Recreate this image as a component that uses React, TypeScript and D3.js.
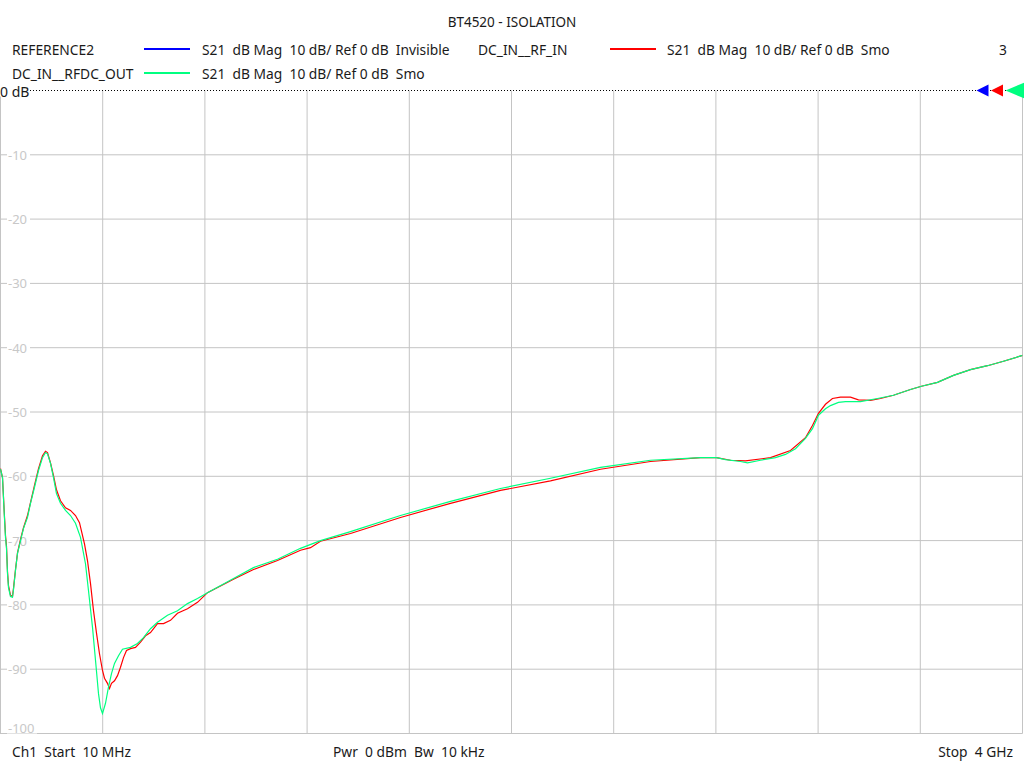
import React from 'react';
import * as d3 from 'd3';

// frequency in MHz, magnitude in dB
const rfInFreq = [
  10, 17.8, 25.6, 29.5, 33.4, 37.3, 41.2, 49.0, 56.8, 60.8, 68.6, 76.4, 88.1, 99.8, 115.4, 127.1,
  142.7, 158.4, 174.0, 185.7, 193.5, 205.2, 216.9, 228.6, 244.2, 263.8, 283.3, 302.8, 318.4, 337.9,
  349.6, 361.4, 373.1, 384.8, 396.5, 408.2, 416.0, 427.7, 435.5, 443.3, 455.1, 466.8, 478.5, 490.2,
  501.9, 517.5, 537.0, 556.6, 576.1, 595.6, 622.9, 646.4, 673.7, 701.0, 740.0, 779.1, 818.1, 919.6,
  997.7, 1091.4, 1181.2, 1220.2, 1259.3, 1376.4, 1571.6, 1766.8, 1962.0, 2157.2, 2352.4, 2547.6,
  2742.8, 2805.3, 2860.0, 2918.5, 3016.1, 3094.2, 3152.7, 3180.0, 3203.5, 3230.8, 3258.1, 3289.4,
  3328.4, 3359.6, 3406.5, 3445.5, 3496.3, 3562.6, 3605.6, 3668.1, 3730.5, 3796.9, 3863.3, 3925.8, 4000,
];
const rfInDb = [
  -58.8, -60.2, -66.3, -69.2, -70.9, -74.8, -77.0, -78.5, -78.7, -77.4, -74.5, -71.9, -69.8, -68.0, -66.1, -64.1,
  -61.4, -58.8, -56.8, -56.1, -56.3, -57.9, -59.9, -62.1, -63.8, -64.9, -65.3, -66.1, -67.2, -70.5,
  -73.1, -76.7, -80.9, -84.4, -87.6, -90.2, -91.4, -92.2, -93.0, -92.2, -91.8, -91.0, -89.7, -88.2,
  -87.1, -86.8, -86.6, -85.8, -84.8, -84.3, -82.9, -82.9, -82.4, -81.3, -80.6, -79.6, -78.1, -76.0,
  -74.5, -73.1, -71.5, -71.1, -70.1, -68.9, -66.4, -64.2, -62.2, -60.7, -58.9, -57.7,
  -57.1, -57.1, -57.5, -57.6, -57.1, -56.0, -54.0, -52.1, -50.2, -48.8, -47.9, -47.7,
  -47.7, -48.1, -48.2, -47.9, -47.4, -46.5, -46.0, -45.4, -44.3, -43.4, -42.8, -42.1, -41.2,
];

const rfdcOutFreq = [
  10, 17.8, 25.6, 29.5, 33.4, 37.3, 41.2, 49.0, 56.8, 60.8, 68.6, 76.4, 88.1, 99.8, 115.4, 127.1,
  142.7, 158.4, 174.0, 185.7, 193.5, 205.2, 216.9, 228.6, 244.2, 263.8, 283.3, 302.8, 322.3, 341.8,
  353.6, 369.2, 380.9, 392.6, 400.4, 408.2, 419.9, 431.6, 443.3, 455.1, 470.7, 486.3, 517.5, 544.8,
  568.3, 595.6, 622.9, 662.0, 701.0, 740.0, 779.1, 818.1, 919.6, 997.7, 1091.4, 1181.2, 1259.3,
  1376.4, 1571.6, 1766.8, 1962.0, 2157.2, 2352.4, 2547.6, 2742.8, 2805.3, 2840.4, 2899.0, 2926.3,
  2977.0, 3035.6, 3074.6, 3113.7, 3152.7, 3180.0, 3203.5, 3230.8, 3250.3, 3281.6, 3308.9, 3367.4,
  3433.8, 3496.3, 3562.6, 3605.6, 3668.1, 3730.5, 3796.9, 3863.3, 3925.8, 4000,
];
const rfdcOutDb = [
  -58.9, -60.2, -66.6, -69.5, -71.2, -75.1, -77.3, -78.7, -78.8, -77.6, -74.6, -72.0, -70.0, -68.1, -66.4, -64.2,
  -61.7, -59.1, -57.1, -56.3, -56.5, -58.0, -60.2, -62.7, -64.2, -65.3, -66.1, -67.3, -69.5, -73.6,
  -77.8, -83.5, -88.6, -93.8, -96.0, -96.9, -95.3, -92.8, -90.7, -89.1, -87.9, -86.9, -86.6, -86.0,
  -85.1, -83.7, -82.7, -81.6, -80.9, -79.8, -79.0, -78.1, -75.9, -74.2, -72.9, -71.2, -70.0,
  -68.6, -66.1, -63.9, -61.9, -60.3, -58.6, -57.5, -57.1, -57.1, -57.4, -57.7, -57.9,
  -57.5, -57.1, -56.6, -55.7, -54.1, -52.6, -50.5, -49.5, -49.0, -48.5, -48.4, -48.4,
  -47.9, -47.4, -46.5, -46.0, -45.4, -44.3, -43.4, -42.8, -42.1, -41.2,
];

const yTicks = [0, -10, -20, -30, -40, -50, -60, -70, -80, -90, -100];
const xDivisions = d3.range(11).map(i => 10 + i * 399);

const legendRows = [
  { name: 'REFERENCE2', color: '#0000ff', info: 'S21  dB Mag  10 dB/ Ref 0 dB  Invisible' },
  { name: 'DC_IN__RF_IN', color: '#ff0000', info: 'S21  dB Mag  10 dB/ Ref 0 dB  Smo' },
  { name: 'DC_IN__RFDC_OUT', color: '#00ff80', info: 'S21  dB Mag  10 dB/ Ref 0 dB  Smo' },
];

const W = 1024;
const H = 768;
const font = '"Noto Sans", "Open Sans", sans-serif';
// keep the analyzer's double spacing
const pre = (s: string) => s.replace(/  /g, '\u00a0 ');

const App: React.FC = () => {
  const x = d3.scaleLinear().domain([10, 4000]).range([0.5, 1022.5]);
  const y = d3.scaleLinear().domain([-100, 0]).range([733.5, 90.5]);

  const line = d3.line<[number, number]>()
    .x(d => x(d[0]))
    .y(d => y(d[1]));

  const redPts = rfInFreq.map((f, i) => [f, rfInDb[i]] as [number, number]);
  const greenPts = rfdcOutFreq.map((f, i) => [f, rfdcOutDb[i]] as [number, number]);

  const y0 = y(0);
  const xr = x(4000);

  return (
    <div style={{ position: 'absolute', left: 0, top: 0 }}>
      <svg width={W} height={H} style={{ display: 'block', background: '#fff' }} fontFamily={font}>
        <defs>
          <clipPath id="plotclip">
            <rect x={0} y={y0} width={xr} height={y(-100) - y0} />
          </clipPath>
        </defs>

        <text x={512} y={27} textAnchor="middle" fontSize={13.5} fill="#1a1a1a">BT4520 - ISOLATION</text>

        {/* legend */}
        <g fontSize={13.8} fill="#1a1a1a">
          <text x={12} y={55}>{legendRows[0].name}</text>
          <text x={202} y={55}>{pre(legendRows[0].info)}</text>
          <text x={478} y={55}>{legendRows[1].name}</text>
          <text x={667} y={55}>{pre(legendRows[1].info)}</text>
          <text x={1007} y={55} textAnchor="end">3</text>
          <text x={12} y={79}>{legendRows[2].name}</text>
          <text x={202} y={79}>{pre(legendRows[2].info)}</text>
        </g>
        <line x1={144} x2={190} y1={49} y2={49} stroke={legendRows[0].color} strokeWidth={2} />
        <line x1={610} x2={656} y1={49} y2={49} stroke={legendRows[1].color} strokeWidth={2} />
        <line x1={144} x2={190} y1={73} y2={73} stroke={legendRows[2].color} strokeWidth={2} />

        {/* grid */}
        {yTicks.slice(1, -1).map(t => (
          <line key={`h${t}`} x1={0} x2={xr} y1={y(t)} y2={y(t)} stroke="#c4c4c4" strokeWidth={1} />
        ))}
        {xDivisions.map(f => (
          <line key={`v${f}`} x1={x(f)} x2={x(f)} y1={y0} y2={y(-100)} stroke="#c4c4c4" strokeWidth={1} />
        ))}
        <line x1={0} x2={xr} y1={y(-100)} y2={y(-100)} stroke="#c4c4c4" strokeWidth={1} />

        {/* y labels */}
        <g clipPath="url(#plotclip)">
          {yTicks.slice(1).map(t => {
            const ly = t === -100 ? y(t) - 6 : y(t);
            return (
              <g key={`l${t}`}>
                <rect x={7} y={ly - 7} width={t === -100 ? 30 : 23} height={14} fill="#fff" />
                <text x={8} y={ly + 5} fontSize={13} fill="#c8c8c8">{t}</text>
              </g>
            );
          })}
        </g>

        {/* traces */}
        <g clipPath="url(#plotclip)">
          <path d={line(redPts) || ''} fill="none" stroke="#ff0000" strokeWidth={1.2} />
          <path d={line(greenPts) || ''} fill="none" stroke="#00ff80" strokeWidth={1.2} />
        </g>

        {/* reference line */}
        <line x1={0} x2={W} y1={y0} y2={y0} stroke="#000" strokeWidth={1} strokeDasharray="1,2" />
        <rect x={0} y={y0 - 8} width={30} height={14} fill="#fff" />
        <text x={0} y={y0 + 6} fontSize={14} fill="#1a1a1a">0 dB</text>

        {/* reference markers */}
        <path d={`M${xr - 46},${y0} L${xr - 34},${y0 - 6} L${xr - 34},${y0 + 6} Z`} fill="#0000ff" />
        <path d={`M${xr - 31.5},${y0} L${xr - 19.5},${y0 - 6} L${xr - 19.5},${y0 + 6} Z`} fill="#ff0000" />
        <path d={`M${xr - 17},${y0} L${xr + 2},${y0 - 8} L${xr + 2},${y0 + 8} Z`} fill="#00ff80" />

        {/* footer */}
        <g fontSize={13.8} fill="#1a1a1a">
          <text x={12} y={757}>{pre('Ch1  Start  10 MHz')}</text>
          <text x={333} y={757}>{pre('Pwr  0 dBm  Bw  10 kHz')}</text>
          <text x={1013} y={757} textAnchor="end">{pre('Stop  4 GHz')}</text>
        </g>
      </svg>
    </div>
  );
};

export default App;
